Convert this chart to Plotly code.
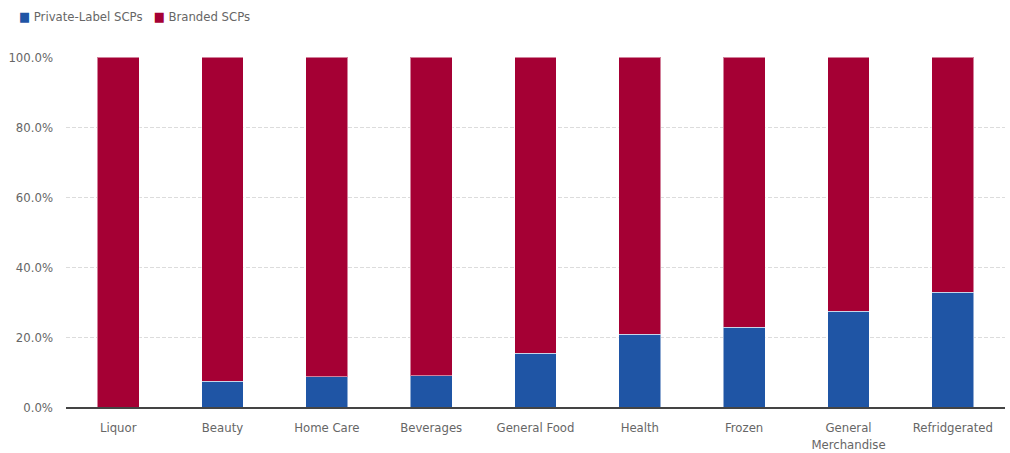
import plotly.graph_objects as go

categories = ["Liquor", "Beauty", "Home Care", "Beverages", "General Food",
              "Health", "Frozen", "General<br>Merchandise", "Refridgerated"]
private_label = [0.0, 7.4, 8.7, 9.0, 15.3, 20.8, 22.8, 27.3, 32.8]
branded = [100 - v for v in private_label]
y_ticks = [0, 20, 40, 60, 80, 100]
y_ticktext = [f"{v:.1f}%" for v in y_ticks]
series_names = ["Private-Label SCPs", "Branded SCPs"]
colors = ["#1f55a5", "#a50034"]

FONT = "DejaVu Sans Condensed, Roboto, Arial"
fig = go.Figure()
fig.add_bar(x=categories, y=private_label, name=series_names[0], showlegend=False,
            marker=dict(color=colors[0], line=dict(color="rgba(255,255,255,0.5)", width=1)))
fig.add_bar(x=categories, y=branded, name=series_names[1], showlegend=False,
            marker=dict(color=colors[1], line=dict(color="rgba(255,255,255,0.5)", width=1)))

legend_text = "   ".join(
    f"<span style='color:{c}'>■</span> {n}" for n, c in zip(series_names, colors))
fig.add_annotation(text=legend_text, xref="paper", yref="paper",
                   x=-66/939 + 17/939, y=1 + 40/350, xanchor="left", yanchor="middle",
                   showarrow=False, font=dict(family=FONT, size=13, color="#666666"))

fig.update_layout(
    barmode="stack",
    bargap=0.6,
    width=1010, height=453,
    margin=dict(l=66, r=5, t=57, b=46),
    plot_bgcolor="white", paper_bgcolor="white",
    font=dict(family=FONT, size=13, color="#666666"),
    xaxis=dict(showline=True, linecolor="#444444", linewidth=1.5, automargin=False,
               ticks="", ticklabelstandoff=8, tickfont=dict(size=13, color="#666666")),
    yaxis=dict(range=[0, 100], tickvals=y_ticks, ticktext=y_ticktext, automargin=False,
               showgrid=True, gridcolor="#dcdcdc", griddash="4px,2px", gridwidth=1,
               zeroline=False, ticks="", ticklabelstandoff=12,
               tickfont=dict(size=13, color="#666666")),
)

fig.write_html("out.html")
